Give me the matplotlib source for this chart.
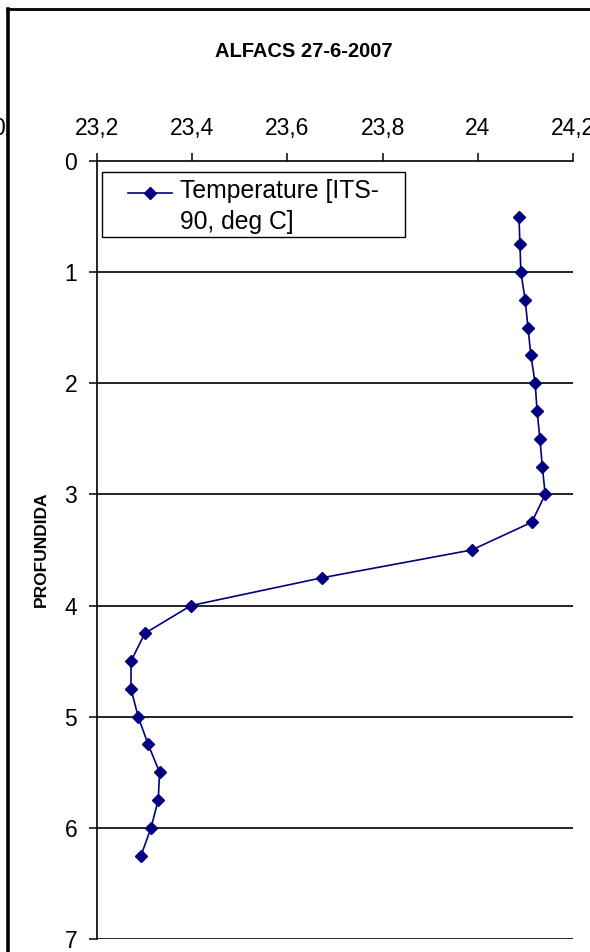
import matplotlib
matplotlib.use("Agg")
import matplotlib.pyplot as plt
from matplotlib.lines import Line2D
from matplotlib.patches import Rectangle

plt.rcParams['font.family'] = ['Liberation Sans', 'DejaVu Sans']

title = "ALFACS 27-6-2007"
y_title = "PROFUNDIDA"
series_label = ["Temperature [ITS-", "90, deg C]"]
depth = [0.5, 0.75, 1.0, 1.25, 1.5, 1.75, 2.0, 2.25, 2.5, 2.75, 3.0, 3.25,
         3.5, 3.75, 4.0, 4.25, 4.5, 4.75, 5.0, 5.25, 5.5, 5.75, 6.0, 6.25]
temperature = [24.086, 24.088, 24.090, 24.099, 24.105, 24.111, 24.120, 24.124,
               24.130, 24.135, 24.141, 24.113, 23.987, 23.673, 23.398, 23.301,
               23.272, 23.272, 23.287, 23.308, 23.332, 23.329, 23.314, 23.293]
x_ticks = [23.2, 23.4, 23.6, 23.8, 24.0, 24.2]
x_tick_labels = ["23,2", "23,4", "23,6", "23,8", "24", "24,2"]
y_ticks = [0, 1, 2, 3, 4, 5, 6, 7]

navy = "#000080"
msize = 5.9

fig = plt.figure(figsize=(5.9, 9.52), dpi=100)
ax = fig.add_axes([0.1639, 0.0137, 0.8078, 0.8172])

ax.plot(temperature, depth, color=navy, lw=1.2, marker='D', markersize=msize,
        markerfacecolor=navy, markeredgecolor=navy)

ax.set_xlim(23.2, 24.2)
ax.set_ylim(7, 0)
ax.xaxis.tick_top()
ax.set_xticks(x_ticks)
ax.set_xticklabels(x_tick_labels)
ax.set_yticks(y_ticks)
ax.tick_params(axis='x', direction='out', length=6, width=1.1, labelsize=16.5, pad=13)
ax.tick_params(axis='y', direction='out', length=6, width=1.1, labelsize=16.5, pad=8)
for lab in ax.get_xticklabels():
    lab.set_verticalalignment('baseline')

for d in y_ticks[1:]:
    ax.axhline(d, color='black', lw=1.2, zorder=0)

for side in ['right', 'bottom']:
    ax.spines[side].set_visible(False)
ax.spines['top'].set_linewidth(1.2)
ax.spines['left'].set_linewidth(1.2)

# legend box drawn by hand to match the original's spacing
ax.add_patch(Rectangle((0.0111, 0.9023), 0.6357, 0.0836, transform=ax.transAxes,
                       fill=False, edgecolor='black', lw=1.0, clip_on=False))
ax.add_line(Line2D([0.0657, 0.1580], [0.9585, 0.9585], transform=ax.transAxes,
                   color=navy, lw=1.2))
ax.add_line(Line2D([0.1119], [0.9585], transform=ax.transAxes, color=navy,
                   marker='D', markersize=msize, markerfacecolor=navy))
ax.text(0.1747, 0.9524, series_label[0], transform=ax.transAxes, fontsize=17.8,
        ha='left', va='baseline')
ax.text(0.1747, 0.9126, series_label[1], transform=ax.transAxes, fontsize=17.8,
        ha='left', va='baseline')

fig.text(0.515, 0.9454, title, ha='center', va='center', fontsize=14.5,
         fontweight='bold')
fig.text(0.0695, 0.4233, y_title, ha='center', va='center', rotation=90,
         fontsize=12.5, fontweight='bold')

# chart border and neighbouring label fragment
fig.add_artist(Line2D([0.0135, 0.0135], [0.0, 0.991], color='black', lw=2.6))
fig.add_artist(Line2D([0.012, 1.0], [0.9905, 0.9905], color='black', lw=2.0))
fig.text(-0.003, 0.865, "0", ha='center', va='center', fontsize=16.5)

fig.savefig("out.png", dpi=100)
